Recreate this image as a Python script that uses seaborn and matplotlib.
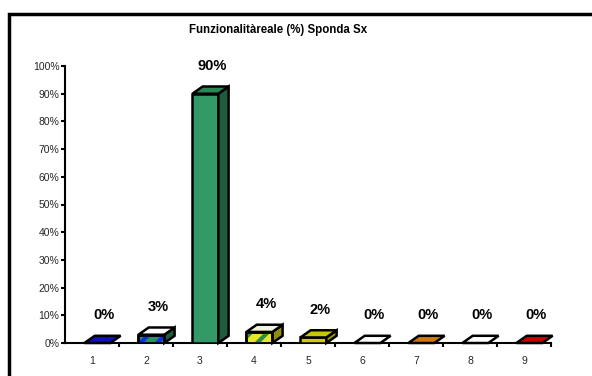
import matplotlib
matplotlib.use("Agg")
import matplotlib.pyplot as plt
from matplotlib.patches import Polygon, Rectangle
import seaborn as sns
import pandas as pd

# Data
categories = ["1", "2", "3", "4", "5", "6", "7", "8", "9"]
values = [0, 3, 90, 4, 2, 0, 0, 0, 0]
title = "Funzionalitàreale (%) Sponda Sx"
y_ticks = list(range(0, 101, 10))
y_tick_labels = [f"{t}%" for t in y_ticks]

# Per-bar styling: front, side, top colours and optional stripe colour
front_colors = ["#1a1aa0", "#2f8f5f", "#339966", "#e6e62a", "#cccc00",
                "#f0a020", "#cc7a00", "#e04020", "#b00000"]
side_colors = ["#101070", "#1f5c3d", "#1f5c3d", "#8f8f10", "#999900",
               "#b07010", "#995c00", "#a02010", "#800000"]
top_colors = ["#1010c0", "#ffffff", "#2d8755", "#f2f2e0", "#c8c800",
              "#ffffff", "#cc7a00", "#ffffff", "#cc0000"]
stripe_colors = [None, "#1030e0", None, "#2f8f3f", None, None, None, None, None]

sns.set_theme(style="white")
plt.rcParams["font.family"] = ["Liberation Sans", "DejaVu Sans"]
plt.rcParams["hatch.linewidth"] = 3.0

fig = plt.figure(figsize=(5.92, 3.76), dpi=100)
fig.patch.set_facecolor("white")
ax = fig.add_axes([65 / 592, 33 / 376, 486 / 592, 277 / 376])

df = pd.DataFrame({"cat": categories, "val": values})
sns.barplot(data=df, x="cat", y="val", hue="cat", palette=front_colors,
            width=0.48, legend=False, ax=ax, edgecolor="black", linewidth=1.8,
            saturation=1)

shift = 0.1     # front face offset to the right of the category centre
dx = 0.19       # depth offset along x (category units)
dy = 2.6        # depth offset along y (percent units)

for i, patch in enumerate(ax.patches[:len(values)]):
    patch.set_x(patch.get_x() + shift)
    patch.set_zorder(3)
    x0 = patch.get_x()
    x1 = x0 + patch.get_width()
    v = values[i]
    if stripe_colors[i] and v > 0:
        ax.add_patch(Rectangle((x0, 0), x1 - x0, v, fill=False,
                               edgecolor=stripe_colors[i], hatch="//",
                               linewidth=0, zorder=3.5))
        ax.add_patch(Rectangle((x0, 0), x1 - x0, v, fill=False,
                               edgecolor="black", linewidth=1.8, zorder=3.6))
    # side face
    if v > 0:
        ax.add_patch(Polygon([(x1, 0), (x1 + dx, dy), (x1 + dx, v + dy), (x1, v)],
                             closed=True, facecolor=side_colors[i],
                             edgecolor="black", linewidth=1.8, zorder=3,
                             clip_on=False))
    # top face
    ax.add_patch(Polygon([(x0, v), (x1, v), (x1 + dx, v + dy), (x0 + dx, v + dy)],
                         closed=True, facecolor=top_colors[i],
                         edgecolor="black", linewidth=1.8, zorder=4,
                         clip_on=False))
    ax.text(i + 0.22, v + 10, f"{v}%", ha="center", va="center",
            fontsize=10.5, fontweight="bold", color="black", zorder=5)

ax.set_xlim(-0.5, len(values) - 0.5)
ax.set_ylim(0, 100)
ax.set_yticks(y_ticks)
ax.set_yticklabels(y_tick_labels, fontsize=7.5)
ax.set_xticks(range(len(values)))
ax.set_xticklabels(categories, fontsize=7.5)
ax.set_xticks([k + 0.5 for k in range(len(values))], minor=True)
ax.tick_params(axis="x", which="major", length=0, pad=9)
ax.tick_params(axis="x", which="minor", direction="out", length=3, width=1.5,
               color="black", bottom=True)
ax.tick_params(axis="y", direction="out", length=3, width=1.5, color="black",
               left=True, pad=1)
ax.set_xlabel("")
ax.set_ylabel("")
for side in ["top", "right"]:
    ax.spines[side].set_visible(False)
for side in ["left", "bottom"]:
    ax.spines[side].set_color("black")
    ax.spines[side].set_linewidth(1.5)
ax.set_facecolor("white")

fig.text(278 / 592, 1 - 30 / 376, title, ha="center", va="center",
         fontsize=8.3, fontweight="bold", color="black")

# Outer frame
fig.patches.append(Rectangle((9 / 592, -0.05), 1.1, 1 - 14 / 376 + 0.05,
                             transform=fig.transFigure, fill=False,
                             edgecolor="black", linewidth=2.5))

fig.savefig("out.png", dpi=100)
